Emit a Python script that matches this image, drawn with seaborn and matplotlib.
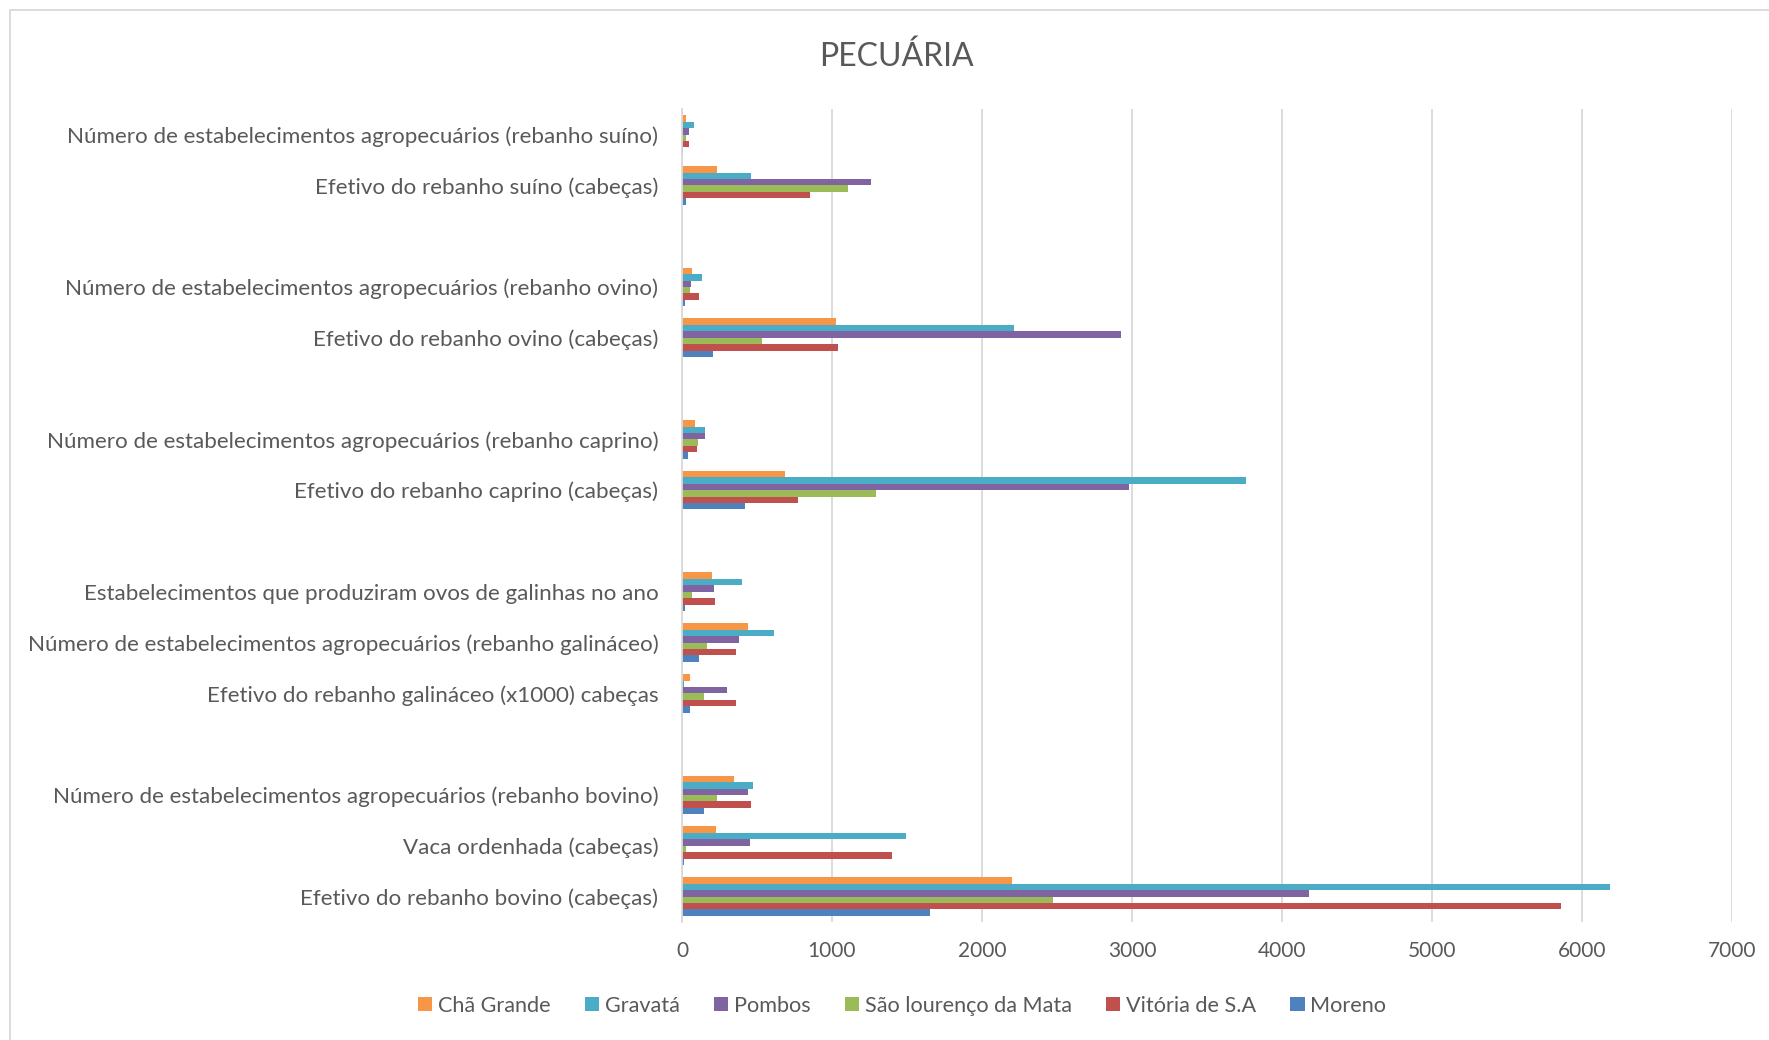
import numpy as np
import pandas as pd
import matplotlib
matplotlib.use("Agg")
import matplotlib.pyplot as plt
import seaborn as sns
from matplotlib.patches import Patch
from matplotlib.lines import Line2D

# categorias (de cima para baixo) e valores
categorias = [
    "Número de estabelecimentos agropecuários (rebanho suíno)",
    "Efetivo do rebanho suíno (cabeças)",
    "Número de estabelecimentos agropecuários (rebanho ovino)",
    "Efetivo do rebanho ovino (cabeças)",
    "Número de estabelecimentos agropecuários (rebanho caprino)",
    "Efetivo do rebanho caprino (cabeças)",
    "Estabelecimentos que produziram ovos de galinhas no ano",
    "Número de estabelecimentos agropecuários (rebanho galináceo)",
    "Efetivo do rebanho galináceo (x1000) cabeças",
    "Número de estabelecimentos agropecuários (rebanho bovino)",
    "Vaca ordenhada (cabeças)",
    "Efetivo do rebanho bovino (cabeças)",
]

municipios = ["Chã Grande", "Gravatá", "Pombos", "São lourenço da Mata",
              "Vitória de S.A", "Moreno"]

cha_grande = [27, 231, 67, 1029, 90, 690, 202, 438, 56, 344, 229, 2200]
gravata = [80, 458, 131, 2211, 151, 3762, 398, 616, 11, 473, 1491, 6188]
pombos = [45, 1260, 62, 2927, 153, 2982, 213, 378, 300, 438, 451, 4181]
sao_lourenco = [27, 1105, 51, 535, 110, 1297, 64, 164, 149, 236, 27, 2477]
vitoria = [47, 855, 113, 1040, 100, 772, 218, 362, 360, 458, 1398, 5858]
moreno = [10, 29, 20, 209, 43, 422, 22, 111, 56, 149, 11, 1656]

cores = ["#F79646", "#4BACC6", "#8064A2", "#9BBB59", "#C0504D", "#4F81BD"]

# ordem no eixo, com linhas vazias entre os grupos
ordem = (categorias[0:2] + [" "] + categorias[2:4] + ["  "] +
         categorias[4:6] + ["   "] + categorias[6:9] + ["    "] +
         categorias[9:12])

series = [cha_grande, gravata, pombos, sao_lourenco, vitoria, moreno]
linhas = []
for mun, vals in zip(municipios, series):
    for cat, v in zip(categorias, vals):
        linhas.append({"categoria": cat, "municipio": mun, "valor": v})
df = pd.DataFrame(linhas)

sns.set_style("white")
plt.rcParams["font.family"] = ["Lato", "DejaVu Sans"]
cinza = "#595959"
grade = "#D9D9D9"

fig = plt.figure(figsize=(17.69, 10.40), dpi=100)
ax = fig.add_axes([0.3855, 0.1135, 0.5935, 0.7815])

sns.barplot(data=df, y="categoria", x="valor", hue="municipio",
            order=ordem, hue_order=municipios, palette=cores,
            orient="h", width=0.76, errorbar=None, saturation=1,
            linewidth=0, legend=False, ax=ax)

ax.set_xlim(0, 7000)
ax.set_ylim(15.5, -0.5)
ax.set_xticks(np.arange(0, 7001, 1000))
ax.xaxis.grid(True, color=grade, linewidth=1.3)
ax.yaxis.grid(False)
ax.set_axisbelow(True)
for s in ["top", "right", "bottom"]:
    ax.spines[s].set_visible(False)
ax.spines["left"].set_color(grade)
ax.spines["left"].set_linewidth(1.3)
ax.set_xlabel("")
ax.set_ylabel("")
ax.tick_params(axis="y", length=0, pad=17, labelsize=16.1, labelcolor=cinza)
ax.tick_params(axis="x", length=0, pad=14, labelsize=15, labelcolor=cinza)

fig.text(0.507, 1 - 57 / 1040, "PECUÁRIA", ha="center", va="center",
         fontsize=23, color=cinza)

handles = [Patch(facecolor=c, edgecolor="none") for c in cores]
fig.legend(handles, municipios, loc="center", bbox_to_anchor=(0.51, 0.033),
           ncol=6, frameon=False, handlelength=0.65, handleheight=0.65,
           handletextpad=0.25, columnspacing=1.6, fontsize=15.6,
           labelcolor=cinza)

# borda da área do gráfico
fig.add_artist(Line2D([10 / 1769, 10 / 1769], [0, 1 - 10 / 1040],
                      color=grade, linewidth=1.3))
fig.add_artist(Line2D([10 / 1769, 1], [1 - 10 / 1040, 1 - 10 / 1040],
                      color=grade, linewidth=1.3))

fig.savefig("out.png", dpi=100)
